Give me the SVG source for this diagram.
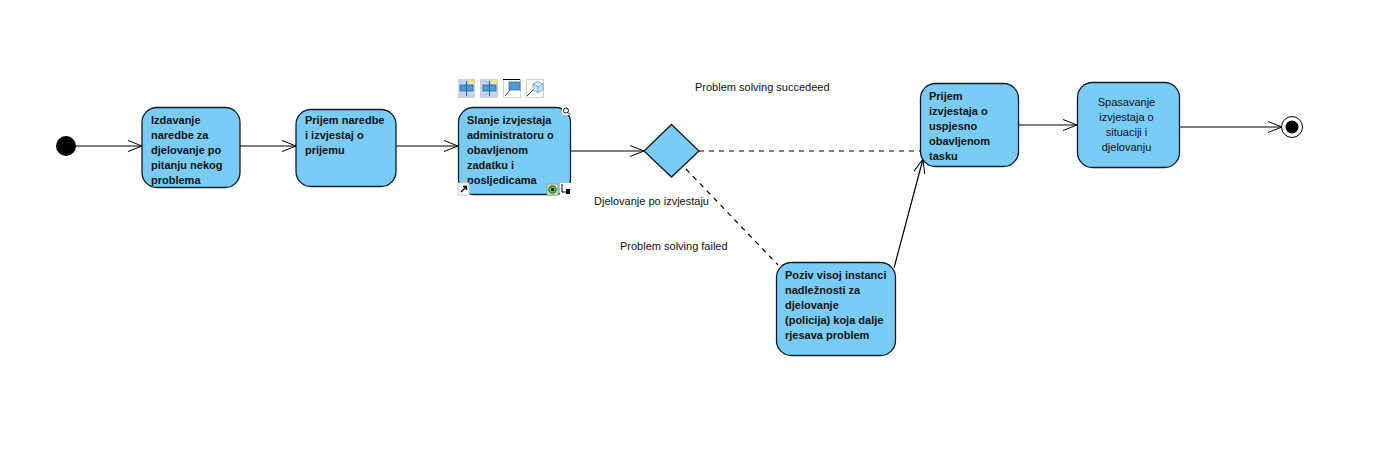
<svg xmlns="http://www.w3.org/2000/svg" width="1379" height="466" viewBox="0 0 1379 466">
<style>
text{font-family:"Liberation Sans",Arial,sans-serif;font-size:11px;fill:#111}
.b{font-weight:bold}
.m{text-anchor:middle}
.n{fill:#7accf7;stroke:#0d1c2c;stroke-width:1.300}
.c{fill:none;stroke:#000;stroke-width:1.200}
.d{stroke-dasharray:5 5}
.i{fill:#c3d4ea;stroke:#d0d0d0;stroke-width:1}
.t{fill:#4f9ad8;stroke:#2a5f9a;stroke-width:.7}
</style>
<defs>
<marker id="a" markerUnits="userSpaceOnUse" markerWidth="18" markerHeight="14" refX="15" refY="7" orient="auto">
<path d="M1 1.500L15 7L1 12.500" fill="none" stroke="#000" stroke-width="1"/>
</marker>
</defs>
<rect width="1379" height="466" fill="#fff"/>
<g id="connectors">
<path class="c" d="M76 146H142" marker-end="url(#a)"/>
<path class="c" d="M240 146H296" marker-end="url(#a)"/>
<path class="c" d="M396 146H458" marker-end="url(#a)"/>
<path class="c" d="M571 151H644" marker-end="url(#a)"/>
<path class="c d" d="M699 151H920"/>
<path class="c d" d="M686 169L778 265"/>
<path class="c" d="M894 268L923 159" marker-end="url(#a)"/>
<path class="c" d="M1019 125H1077" marker-end="url(#a)"/>
<path class="c" d="M1180 127H1282" marker-end="url(#a)"/>
</g>
<g id="start"><circle cx="66" cy="146" r="10" fill="#000"/></g>
<g id="n1"><rect class="n" x="142" y="107.500" width="98" height="80" rx="15"/>
<text class="b" x="151" y="124">Izdavanje</text><text class="b" x="151" y="139">naredbe za</text><text class="b" x="151" y="154">djelovanje po</text><text class="b" x="151" y="169">pitanju nekog</text><text class="b" x="151" y="184">problema</text></g>
<g id="n2"><rect class="n" x="296" y="109.500" width="100" height="77" rx="15"/>
<text class="b" x="305" y="124">Prijem naredbe</text><text class="b" x="305" y="139">i izvjestaj o</text><text class="b" x="305" y="154">prijemu</text></g>
<g id="n3"><rect class="n" x="458.500" y="107.500" width="112" height="87" rx="15"/>
<text class="b" x="467" y="124">Slanje izvjestaja</text><text class="b" x="467" y="139">administratoru o</text><text class="b" x="467" y="154">obavljenom</text><text class="b" x="467" y="169">zadatku i</text><text class="b" x="467" y="184">posljedicama</text></g>
<g id="decision"><path class="n" d="M671.500 124.500L699 151L671.500 177L644 151Z"/></g>
<g id="n4"><rect class="n" x="920.500" y="83.500" width="98" height="83" rx="15"/>
<text class="b" x="929" y="100">Prijem</text><text class="b" x="929" y="115">izvjestaja o</text><text class="b" x="929" y="130">uspjesno</text><text class="b" x="929" y="145">obavljenom</text><text class="b" x="929" y="160">tasku</text></g>
<g id="n5"><rect class="n" x="776.500" y="262.500" width="119" height="93" rx="15"/>
<text class="b" x="785" y="279">Poziv visoj instanci</text><text class="b" x="785" y="294">nadležnosti za</text><text class="b" x="785" y="309">djelovanje</text><text class="b" x="785" y="324">(policija) koja dalje</text><text class="b" x="785" y="339">rjesava problem</text></g>
<g id="n6"><rect class="n" x="1077.500" y="82.500" width="102" height="85" rx="15"/>
<text class="m" x="1126.500" y="106">Spasavanje</text><text class="m" x="1126.500" y="121">izvjestaja o</text><text class="m" x="1126.500" y="136">situaciji i</text><text class="m" x="1126.500" y="151">djelovanju</text></g>
<g id="end"><circle cx="1292" cy="127" r="10.500" fill="#fff" stroke="#000"/><circle cx="1292" cy="127" r="6.500" fill="#000"/></g>
<g id="labels">
<text x="695" y="91">Problem solving succedeed</text>
<text x="594" y="205">Djelovanje po izvjestaju</text>
<text x="620" y="250">Problem solving failed</text>
</g>
<g id="toolbar">
<rect class="i" x="458.500" y="79.500" width="16" height="18"/><rect class="t" x="460" y="85" width="13" height="6"/><path d="M466.500 81V96" stroke="#2a5f9a" stroke-width="1"/><rect x="469" y="80" width="5" height="4" fill="#f3e58a"/>
<rect class="i" x="480.500" y="79.500" width="17" height="18"/><rect class="t" x="483" y="85" width="13" height="6"/><path d="M489.500 81V96" stroke="#2a5f9a" stroke-width="1"/><rect x="492" y="80" width="5" height="4" fill="#f3e58a"/>
<rect x="503.500" y="79.500" width="17" height="18" fill="#fff" stroke="#d0d0d0"/><path d="M503 79.500H520" stroke="#000"/><rect class="t" x="509" y="82" width="11" height="8"/><path d="M505 96L510 90" stroke="#000" stroke-width=".8"/>
<rect x="526.500" y="79.500" width="17" height="18" fill="#fff" stroke="#d0d0d0"/><path d="M533 84L538 81.500L543 84V90L538 92.500L533 90ZM533 84L538 86.500L543 84M538 86.500V92.500" fill="#cfe3f5" stroke="#4f8fc8" stroke-width=".7"/><path d="M527 96L533 90" stroke="#000" stroke-width=".8"/>
<rect x="458" y="183" width="11" height="12" fill="#fff" stroke="#ccc"/><path d="M461 192L466 187M463 186.500H466.500V190" fill="none" stroke="#000" stroke-width="1.400"/>
<rect x="547" y="184" width="11" height="11" fill="#cfe8c8" stroke="#999"/><circle cx="552.500" cy="189.500" r="3.800" fill="#5cc04a" stroke="#1c6a1c"/><rect x="551" y="188" width="3" height="3" fill="#123"/>
<rect x="560" y="183" width="11" height="12" fill="#fff"/><path d="M562 184V192H566" fill="none" stroke="#000"/><rect x="566" y="189" width="4" height="5" fill="#000"/>
<rect x="562" y="107" width="9" height="8" fill="#fff"/><circle cx="566" cy="110.500" r="2.500" fill="#fff" stroke="#000" stroke-width=".9"/><path d="M568 112.500L570 114.500" stroke="#000"/>
</g>
</svg>
